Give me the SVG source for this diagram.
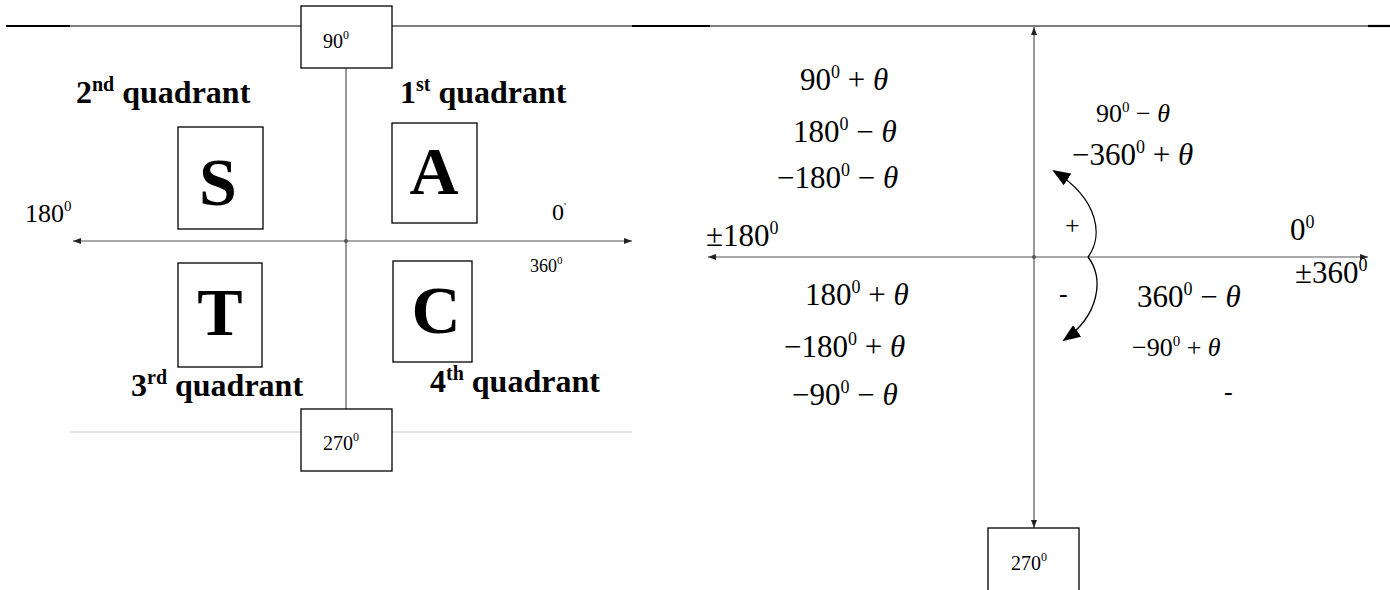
<svg xmlns="http://www.w3.org/2000/svg" width="1390" height="590" viewBox="0 0 1390 590">
<style>
text,tspan{font-family:"Liberation Serif","Times New Roman",serif;fill:#000}
.box{fill:#fff;stroke:#000;stroke-width:1.3}
.ax{stroke:#555;stroke-width:1.2;fill:none}
.q{font-size:32px;font-weight:bold}
.big{font-size:68px;font-weight:bold;text-anchor:middle}
.lbl{font-size:20px}
.m{font-size:31px}
.s{font-size:26px}
.it{font-style:italic}
.thick{stroke:#000;stroke-width:2.2}
.thin{stroke:#000;stroke-width:1.2}
</style>
<defs>
<marker id="ah" viewBox="0 0 8 6" refX="8" refY="3" markerWidth="8" markerHeight="6" markerUnits="userSpaceOnUse" orient="auto-start-reverse"><path d="M0,0 L8,3 L0,6 z" fill="#222"/></marker>
<marker id="bh" viewBox="0 0 18 14" refX="16" refY="7" markerWidth="18" markerHeight="14" markerUnits="userSpaceOnUse" orient="auto"><path d="M0,0 L18,7 L0,14 z" fill="#000"/></marker>
</defs>

<g id="rules">
<line class="thick" x1="6" y1="26" x2="70" y2="26"/>
<line class="thin" x1="70" y1="26" x2="632" y2="26"/>
<line class="thick" x1="632" y1="26" x2="710" y2="26"/>
<line class="thin" x1="710" y1="26" x2="1368" y2="26"/>
<line class="thick" x1="1368" y1="26" x2="1390" y2="26"/>
<line x1="70" y1="432" x2="632" y2="432" stroke="#ccc" stroke-width="1.2"/>
</g>

<g id="connectors">
<line class="ax" x1="346" y1="68" x2="346" y2="409"/>
<line class="ax" x1="73" y1="241" x2="632" y2="241" marker-start="url(#ah)" marker-end="url(#ah)"/>
<circle cx="346" cy="241" r="2" fill="#555"/>
<line class="ax" x1="1034" y1="257" x2="1034" y2="27" marker-end="url(#ah)"/>
<line class="ax" x1="1034" y1="257" x2="1034" y2="528" marker-end="url(#ah)"/>
<line class="ax" x1="708" y1="257" x2="1368" y2="257" marker-start="url(#ah)" marker-end="url(#ah)"/>
<circle cx="1034" cy="257" r="2" fill="#555"/>
<path d="M1088,257 C1103,237 1100,200 1054,171" fill="none" stroke="#000" stroke-width="1.3" marker-end="url(#bh)"/>
<path d="M1088,257 C1104,278 1100,315 1064,340" fill="none" stroke="#000" stroke-width="1.3" marker-end="url(#bh)"/>
</g>

<g id="box90"><rect class="box" x="301" y="6" width="91" height="62"/><text class="lbl" x="323" y="48">90<tspan font-size="12" dy="-9">0</tspan></text></g>
<g id="box270"><rect class="box" x="301" y="409" width="91" height="62"/><text class="lbl" x="323" y="450">270<tspan font-size="12" dy="-9">0</tspan></text></g>
<g id="nodeS"><rect class="box" x="178" y="127" width="85" height="102"/><text class="big" x="218" y="205">S</text></g>
<g id="nodeA"><rect class="box" x="392" y="123" width="85" height="100"/><text class="big" x="434" y="194">A</text></g>
<g id="nodeT"><rect class="box" x="178" y="263" width="84" height="104"/><text class="big" x="220" y="335">T</text></g>
<g id="nodeC"><rect class="box" x="393" y="261" width="79" height="101"/><text class="big" x="436" y="333">C</text></g>

<g id="left-labels">
<text class="q" x="76" y="103">2<tspan font-size="20" dy="-12">nd</tspan><tspan dy="12"> quadrant</tspan></text>
<text class="q" x="400" y="103">1<tspan font-size="20" dy="-12">st</tspan><tspan dy="12"> quadrant</tspan></text>
<text class="q" x="131" y="396">3<tspan font-size="20" dy="-12">rd</tspan><tspan dy="12"> quadrant</tspan></text>
<text class="q" x="430" y="392">4<tspan font-size="20" dy="-12">th</tspan><tspan dy="12"> quadrant</tspan></text>
<text x="25" y="222" font-size="26">180<tspan font-size="15" dy="-11">0</tspan></text>
<text x="552" y="220" font-size="24">0<tspan font-size="11" dy="-10">'</tspan></text>
<text x="530" y="272" font-size="18">360<tspan font-size="11" dy="-8">0</tspan></text>
</g>

<g id="box270r"><rect class="box" x="988" y="528" width="91" height="70"/><text class="lbl" x="1011" y="570">270<tspan font-size="12" dy="-9">0</tspan></text></g>

<g id="right-labels">
<text class="m" x="800" y="90">90<tspan font-size="18" dy="-12">0</tspan><tspan dy="12"> + </tspan><tspan class="it">θ</tspan></text>
<text class="m" x="793" y="142">180<tspan font-size="18" dy="-12">0</tspan><tspan dy="12"> − </tspan><tspan class="it">θ</tspan></text>
<text class="m" x="777" y="188">−180<tspan font-size="18" dy="-12">0</tspan><tspan dy="12"> − </tspan><tspan class="it">θ</tspan></text>
<text class="s" x="1096" y="122">90<tspan font-size="15" dy="-10">0</tspan><tspan dy="10"> − </tspan><tspan class="it">θ</tspan></text>
<text class="m" x="1072" y="165">−360<tspan font-size="18" dy="-12">0</tspan><tspan dy="12"> + </tspan><tspan class="it">θ</tspan></text>
<text class="m" x="706" y="246">±180<tspan font-size="18" dy="-12">0</tspan></text>
<text class="m" x="1290" y="240">0<tspan font-size="18" dy="-12">0</tspan></text>
<text class="m" x="1295" y="283">±360<tspan font-size="18" dy="-12">0</tspan></text>
<text x="1065" y="234" font-size="26">+</text>
<text x="1059" y="302" font-size="26">-</text>
<text class="m" x="805" y="305">180<tspan font-size="18" dy="-12">0</tspan><tspan dy="12"> + </tspan><tspan class="it">θ</tspan></text>
<text class="m" x="1137" y="307">360<tspan font-size="18" dy="-12">0</tspan><tspan dy="12"> − </tspan><tspan class="it">θ</tspan></text>
<text class="m" x="784" y="357">−180<tspan font-size="18" dy="-12">0</tspan><tspan dy="12"> + </tspan><tspan class="it">θ</tspan></text>
<text class="s" x="1132" y="356">−90<tspan font-size="15" dy="-10">0</tspan><tspan dy="10"> + </tspan><tspan class="it">θ</tspan></text>
<text class="m" x="792" y="405">−90<tspan font-size="18" dy="-12">0</tspan><tspan dy="12"> − </tspan><tspan class="it">θ</tspan></text>
<text x="1224" y="400" font-size="26">-</text>
</g>
</svg>
